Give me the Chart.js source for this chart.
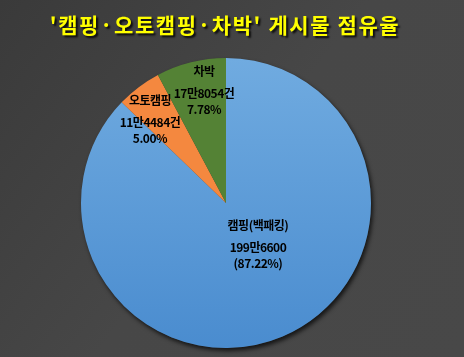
<!DOCTYPE html>
<html>
<head>
<meta charset="utf-8">
<script src="https://cdn.jsdelivr.net/npm/chart.js@4.4.0/dist/chart.umd.min.js"></script>
<style>
  html, body { margin: 0; padding: 0; background: #444; }
  #wrap { width: 464px; height: 357px; }
</style>
</head>
<body>
<div id="wrap"><canvas id="shareChart" width="464" height="357"></canvas></div>
<script>
// data
var titleText = "'캠핑·오토캠핑·차박' 게시물 점유율";
var categories = ['캠핑(백패킹)', '오토캠핑', '차박'];
var shares = [87.22, 5.00, 7.78];
var countLabels = ['199만6600', '11만4484건', '17만8054건'];
var pctLabels = ['(87.22%)', '5.00%', '7.78%'];

var sliceColors = ['#5b9bd5', '#f4883f', '#548235'];

// background + title + pie shadow
var backdrop = {
    id: 'backdrop',
    beforeDraw: function (chart) {
        var ctx = chart.ctx;
        var g = ctx.createLinearGradient(0, 0, chart.width, chart.height);
        g.addColorStop(0, '#3a3a3a');
        g.addColorStop(0.5, '#474747');
        g.addColorStop(1, '#484848');
        ctx.save();
        ctx.fillStyle = g;
        ctx.fillRect(0, 0, chart.width, chart.height);

        // title with drop shadow
        ctx.font = 'bold 21px "Noto Sans CJK KR"';
        ctx.letterSpacing = '1.6px';
        ctx.textAlign = 'center';
        ctx.textBaseline = 'middle';
        ctx.shadowColor = 'rgba(0,0,0,0.85)';
        ctx.shadowOffsetX = 2;
        ctx.shadowOffsetY = 2;
        ctx.shadowBlur = 2;
        ctx.fillStyle = '#ffff00';
        ctx.fillText(titleText, 225, 25);
        ctx.restore();
    },
    beforeDatasetsDraw: function (chart) {
        var arc = chart.getDatasetMeta(0).data[0];
        if (!arc) return;
        var ctx = chart.ctx;
        ctx.save();
        ctx.shadowColor = 'rgba(0,0,0,0.7)';
        ctx.shadowOffsetX = 2;
        ctx.shadowOffsetY = 3;
        ctx.shadowBlur = 4;
        ctx.fillStyle = '#3a3a3a';
        ctx.beginPath();
        ctx.arc(arc.x, arc.y, arc.outerRadius, 0, Math.PI * 2);
        ctx.fill();
        ctx.restore();
    }
};

// slice labels, placed from each arc's angle and radius
var labelPos = [
    { r: 0.375, shift: -0.227 },
    { r: 0.766, shift: -0.108 },
    { r: 0.773, shift: 0.047 }
];
var sliceLabels = {
    id: 'sliceLabels',
    afterDatasetsDraw: function (chart) {
        var ctx = chart.ctx;
        var arcs = chart.getDatasetMeta(0).data;
        ctx.save();
        ctx.fillStyle = '#000';
        ctx.textAlign = 'center';
        ctx.textBaseline = 'middle';
        ctx.font = '600 12px "Noto Sans CJK KR"';
        ctx.letterSpacing = '-0.5px';
        arcs.forEach(function (arc, i) {
            var mid = (arc.startAngle + arc.endAngle) / 2 + labelPos[i].shift;
            var rr = arc.outerRadius * labelPos[i].r;
            var cx = arc.x + Math.cos(mid) * rr;
            var cy = arc.y + Math.sin(mid) * rr;
            ctx.fillText(categories[i], cx, cy - 22);
            ctx.fillText(countLabels[i], cx, cy);
            ctx.fillText(pctLabels[i], cx, cy + 16);
        });
        ctx.restore();
    }
};

var ctx = document.getElementById('shareChart').getContext('2d');
var blueGrad = ctx.createLinearGradient(0, 58, 0, 348);
blueGrad.addColorStop(0, '#70abe0');
blueGrad.addColorStop(1, '#4a8ccf');

new Chart(ctx, {
    type: 'pie',
    data: {
        labels: categories,
        datasets: [{
            data: shares,
            backgroundColor: [blueGrad, sliceColors[1], sliceColors[2]],
            borderWidth: 0
        }]
    },
    options: {
        responsive: false,
        animation: false,
        layout: { padding: { top: 58, bottom: 9, left: 81, right: 93 } },
        plugins: {
            legend: { display: false },
            tooltip: { enabled: false }
        }
    },
    plugins: [backdrop, sliceLabels]
});
</script>
</body>
</html>
